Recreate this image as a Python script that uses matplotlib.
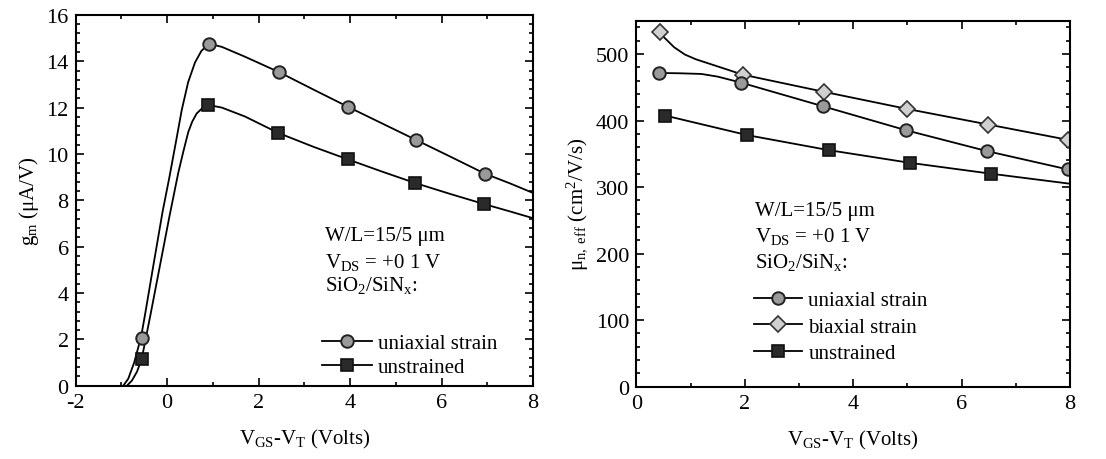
import matplotlib
matplotlib.use("Agg")
import matplotlib.pyplot as plt
from matplotlib.lines import Line2D
from matplotlib.ticker import MultipleLocator

plt.rcParams["font.family"] = ["Liberation Serif", "DejaVu Serif"]
plt.rcParams["mathtext.fontset"] = "custom"
plt.rcParams["mathtext.rm"] = "Liberation Serif"
plt.rcParams["mathtext.it"] = "Liberation Serif:italic"
plt.rcParams["axes.unicode_minus"] = False
plt.rcParams["font.size"] = 15

# ---- left panel: transconductance, traced curves and marker points
gm_uni_x = [-0.96, -0.85, -0.72, -0.57, -0.48, -0.30, -0.10, 0.05, 0.20, 0.32, 0.46, 0.61, 0.75, 0.92,
            1.2, 1.7, 2.45, 3.2, 3.95, 4.7, 5.45, 6.2, 6.95, 7.5, 8.0]
gm_uni_y = [0.0, 0.3, 1.0, 2.1, 3.1, 5.2, 7.5, 9.0, 10.6, 11.9, 13.1, 13.95, 14.45, 14.76,
            14.62, 14.2, 13.53, 12.78, 12.04, 11.32, 10.6, 9.88, 9.15, 8.73, 8.32]
gm_uni_mx = [-0.55, 0.92, 2.45, 3.95, 5.45, 6.95]
gm_uni_my = [2.07, 14.76, 13.53, 12.04, 10.6, 9.15]

gm_uns_x = [-0.88, -0.77, -0.66, -0.555, -0.37, -0.155, 0.05, 0.245, 0.354, 0.463, 0.55, 0.647, 0.78, 0.90,
            1.2, 1.7, 2.43, 3.2, 3.95, 4.7, 5.42, 6.2, 6.93, 7.5, 8.0]
gm_uns_y = [0.0, 0.22, 0.6, 1.16, 3.0, 5.2, 7.3, 9.2, 10.1, 10.95, 11.4, 11.75, 12.0, 12.12,
            12.0, 11.62, 10.91, 10.31, 9.77, 9.24, 8.75, 8.27, 7.84, 7.52, 7.23]
gm_uns_mx = [-0.555, 0.90, 2.43, 3.95, 5.42, 6.93]
gm_uns_my = [1.16, 12.12, 10.91, 9.77, 8.75, 7.84]

# ---- right panel: effective mobility
mu_uni_x = [0.41, 0.8, 1.2, 1.5, 1.93, 3.44, 4.97, 6.47, 7.96, 8.2]
mu_uni_y = [471.5, 471, 470, 466, 457, 421.5, 385.5, 354, 326.5, 322]
mu_bi_x = [0.43, 0.5, 0.7, 0.9, 1.1, 1.4, 1.7, 1.96, 3.47, 4.99, 6.49, 7.96, 8.2]
mu_bi_y = [533, 526, 510, 499, 492, 484, 476, 469, 443, 417.5, 394, 371, 367]
mu_uns_x = [0.53, 2.05, 3.55, 5.04, 6.55, 8.0]
mu_uns_y = [407.5, 378, 355.5, 336.5, 320, 305]
mu_uni_mx = [0.41, 1.93, 3.44, 4.97, 6.47, 7.96]
mu_uni_my = [471.5, 457, 421.5, 385.5, 354, 326.5]
mu_bi_mx = [0.43, 1.96, 3.47, 4.99, 6.49, 7.96]
mu_bi_my = [533, 469, 443, 417.5, 394, 371]
mu_uns_mx = [0.53, 2.05, 3.55, 5.04, 6.55]
mu_uns_my = [407.5, 378, 355.5, 336.5, 320]

labels_left = ["uniaxial strain", "unstrained"]
labels_right = ["uniaxial strain", "biaxial strain", "unstrained"]

circ = dict(marker="o", markersize=9, markerfacecolor="#9a9a9a", markeredgecolor="#222222", markeredgewidth=1.4)
squ = dict(marker="s", markersize=8.5, markerfacecolor="#2a2a2a", markeredgecolor="#111111", markeredgewidth=1.2)
dia = dict(marker="D", markersize=8, markerfacecolor="#d0d0d0", markeredgecolor="#333333", markeredgewidth=1.2)

fig = plt.figure(figsize=(11.06, 4.6), dpi=100)
ax1 = fig.add_axes([0.0684, 0.1593, 0.4135, 0.806])
ax2 = fig.add_axes([0.5753, 0.1572, 0.3922, 0.7956])

lw = 1.3
ax1.plot(gm_uni_x, gm_uni_y, color="k", lw=lw)
ax1.plot(gm_uns_x, gm_uns_y, color="k", lw=lw)
ax1.plot(gm_uni_mx, gm_uni_my, ls="none", **circ)
ax1.plot(gm_uns_mx, gm_uns_my, ls="none", **squ)

ax2.plot(mu_uni_x, mu_uni_y, color="k", lw=lw)
ax2.plot(mu_bi_x, mu_bi_y, color="k", lw=lw)
ax2.plot(mu_uns_x, mu_uns_y, color="k", lw=lw)
ax2.plot(mu_bi_mx, mu_bi_my, ls="none", **dia)
ax2.plot(mu_uni_mx, mu_uni_my, ls="none", **circ)
ax2.plot(mu_uns_mx, mu_uns_my, ls="none", **squ)

ax1.set_xlim(-2, 8)
ax1.set_ylim(0, 16)
ax1.xaxis.set_major_locator(MultipleLocator(2))
ax1.xaxis.set_minor_locator(MultipleLocator(1))
ax1.yaxis.set_major_locator(MultipleLocator(2))
ax1.yaxis.set_minor_locator(MultipleLocator(0.4))

ax2.set_xlim(0, 8)
ax2.set_ylim(0, 550)
ax2.xaxis.set_major_locator(MultipleLocator(2))
ax2.xaxis.set_minor_locator(MultipleLocator(1))
ax2.yaxis.set_major_locator(MultipleLocator(100))
ax2.yaxis.set_minor_locator(MultipleLocator(20))

for ax in (ax1, ax2):
    for s in ax.spines.values():
        s.set_linewidth(1.5)
    ax.tick_params(which="both", direction="in", top=True, right=True, labelsize=16, width=1.2)
    ax.tick_params(which="major", length=6, pad=5)
    ax.tick_params(which="minor", length=3)
    ax.set_xlabel("V$_\\mathrm{GS}$-V$_\\mathrm{T}$ (Volts)", fontsize=15, labelpad=11)

ax1.set_ylabel("g$_\\mathrm{m}$ (μA/V)", fontsize=15, labelpad=4)
ax2.set_ylabel("μ$_\\mathrm{n,\\ eff}$ (cm$^\\mathrm{2}$/V/s)", fontsize=15, labelpad=4)

info = ["W/L=15/5 μm", "V$_\\mathrm{DS}$ = +0 1 V", "SiO$_\\mathrm{2}$/SiN$_\\mathrm{x}$:"]
for txt, yy in zip(info, [0.404, 0.336, 0.272]):
    ax1.text(0.545, yy, txt, transform=ax1.transAxes, va="center", ha="left", fontsize=15)
for txt, yy in zip(info, [0.481, 0.414, 0.343]):
    ax2.text(0.274, yy, txt, transform=ax2.transAxes, va="center", ha="left", fontsize=15)

h_left = [Line2D([], [], color="k", lw=lw, **circ), Line2D([], [], color="k", lw=lw, **squ)]
h_right = [Line2D([], [], color="k", lw=lw, **circ), Line2D([], [], color="k", lw=lw, **dia),
           Line2D([], [], color="k", lw=lw, **squ)]
ax1.legend(h_left, labels_left, loc="upper left", bbox_to_anchor=(0.538, 0.14), frameon=False,
           handlelength=2.4, handletextpad=0.3, labelspacing=0.2, borderpad=0, borderaxespad=0,
           numpoints=1, fontsize=15)
ax2.legend(h_right, labels_right, loc="upper left", bbox_to_anchor=(0.272, 0.262), frameon=False,
           handlelength=2.3, handletextpad=0.3, labelspacing=0.32, borderpad=0, borderaxespad=0,
           numpoints=1, fontsize=15)

fig.savefig("out.png", dpi=100, facecolor="white")
